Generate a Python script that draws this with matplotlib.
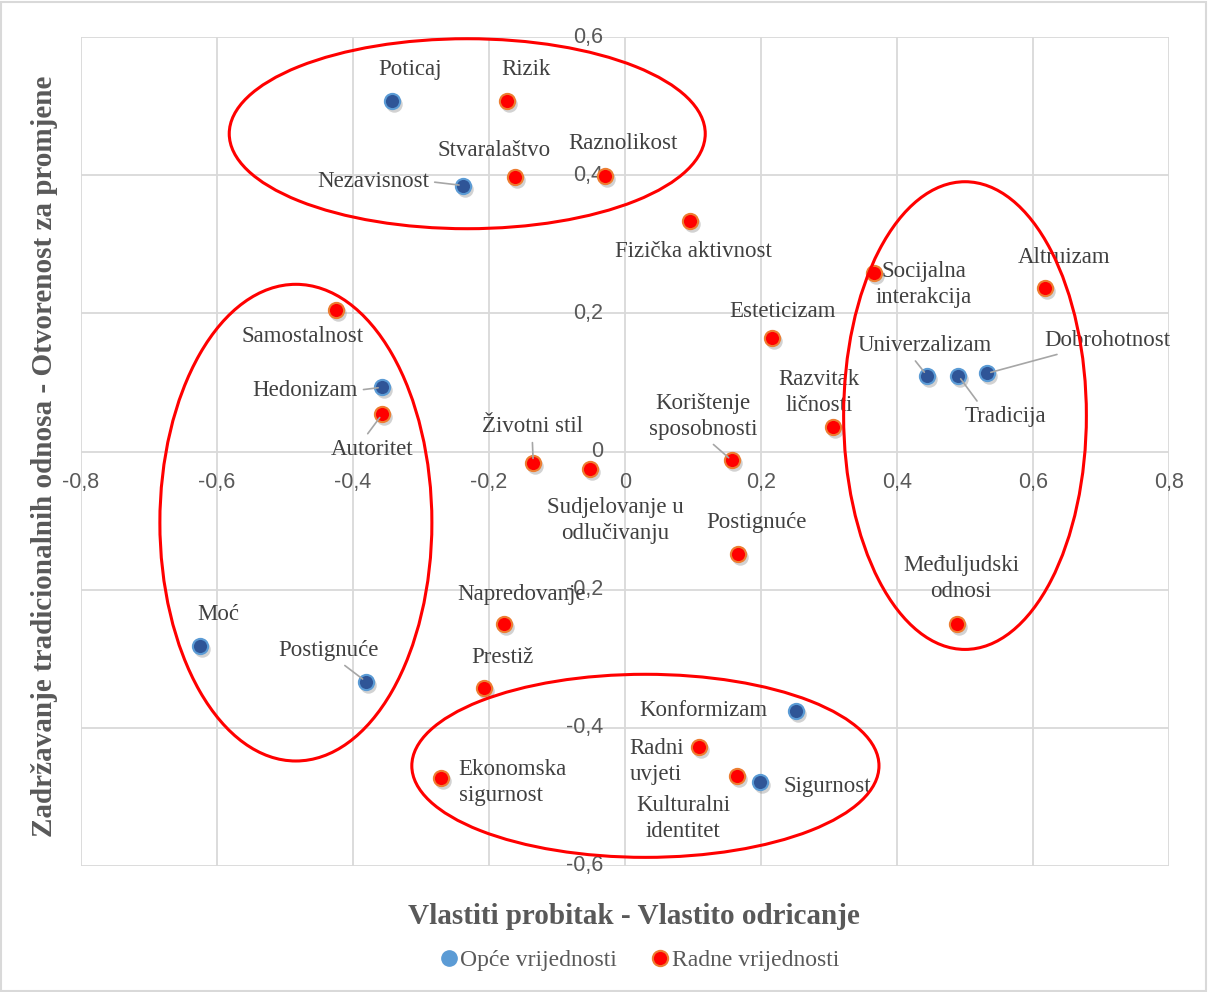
import numpy as np
import matplotlib
matplotlib.use('Agg')
import matplotlib.pyplot as plt
from matplotlib.patches import Ellipse, Rectangle
from matplotlib.lines import Line2D
import matplotlib.transforms as mtransforms

# Opće vrijednosti (blue)
opce_names = ['Poticaj', 'Nezavisnost', 'Hedonizam', 'Moć', 'Postignuće',
              'Konformizam', 'Sigurnost', 'Univerzalizam', 'Tradicija', 'Dobrohotnost']
opce_x = [-0.343, -0.238, -0.357, -0.625, -0.381, 0.251, 0.199, 0.444, 0.490, 0.532]
opce_y = [0.508, 0.385, 0.093, -0.282, -0.333, -0.375, -0.478, 0.110, 0.110, 0.113]

# Radne vrijednosti (red)
radne_names = ['Rizik', 'Stvaralaštvo', 'Raznolikost', 'Fizička aktivnost',
               'Socijalna\ninterakcija', 'Altruizam', 'Samostalnost', 'Esteticizam',
               'Autoritet', 'Razvitak\nličnosti', 'Korištenje\nsposobnosti', 'Životni stil',
               'Sudjelovanje u\nodlučivanju', 'Postignuće', 'Međuljudski\nodnosi',
               'Napredovanje', 'Prestiž', 'Radni\nuvjeti', 'Kulturalni\nidentitet',
               'Ekonomska\nsigurnost']
radne_x = [-0.174, -0.162, -0.029, 0.096, 0.366, 0.618, -0.425, 0.216, -0.357, 0.306,
           0.157, -0.135, -0.051, 0.166, 0.488, -0.178, -0.207, 0.109, 0.165, -0.271]
radne_y = [0.508, 0.398, 0.399, 0.334, 0.258, 0.236, 0.205, 0.164, 0.054, 0.036,
           -0.013, -0.016, -0.025, -0.149, -0.249, -0.250, -0.343, -0.428, -0.469, -0.473]

ticks_x = [-0.8, -0.6, -0.4, -0.2, 0, 0.2, 0.4, 0.6, 0.8]
ticks_y = [-0.6, -0.4, -0.2, 0, 0.2, 0.4, 0.6]

# label offsets in pixels (dx, dy), alignment, leader line start (relpos) or None
opce_lab = {
    'Poticaj': (18, 31, 'center', None),
    'Nezavisnost': (-90, 4, 'center', (1.0, 0.5)),
    'Hedonizam': (-77, -3, 'center', (1.0, 0.5)),
    'Moć': (18, 32, 'center', None),
    'Postignuće': (-37, 31, 'center', (0.6, 0.0)),
    'Konformizam': (-92, 0, 'center', None),
    'Sigurnost': (67, -5, 'center', None),
    'Univerzalizam': (-2, 30, 'center', (0.4, 0.0)),
    'Tradicija': (47, -41, 'center', (0.2, 1.0)),
    'Dobrohotnost': (121, 33, 'center', (0.2, 0.0)),
}
radne_lab = {
    'Rizik': (19, 31, 'center', None),
    'Stvaralaštvo': (-21, 26, 'center', None),
    'Raznolikost': (18, 32, 'center', None),
    'Fizička aktivnost': (3, -31, 'center', None),
    'Socijalna\ninterakcija': (50, -11, 'center', None),
    'Altruizam': (19, 31, 'center', None),
    'Samostalnost': (-33, -27, 'center', None),
    'Esteticizam': (11, 27, 'center', None),
    'Autoritet': (-10, -35, 'center', (0.4, 1.0)),
    'Razvitak\nličnosti': (-14, 34, 'center', None),
    'Korištenje\nsposobnosti': (-29, 44, 'center', (0.55, 0.0)),
    'Životni stil': (-1, 36, 'center', (0.5, 0.0)),
    'Sudjelovanje u\nodlučivanju': (25, -52, 'center', None),
    'Postignuće': (19, 32, 'center', None),
    'Međuljudski\nodnosi': (4, 45, 'center', None),
    'Napredovanje': (18, 30, 'center', None),
    'Prestiž': (18, 31, 'center', None),
    'Radni\nuvjeti': (-43, -14, 'center', None),
    'Kulturalni\nidentitet': (-54, -43, 'center', None),
    'Ekonomska\nsigurnost': (18, -4, 'left', None),
}

# ellipses: center x, center y, width, height
ell_cx = [-0.232, -0.484, 0.500, 0.030]
ell_cy = [0.460, -0.103, 0.052, -0.455]
ell_w = [0.700, 0.400, 0.357, 0.687]
ell_h = [0.275, 0.690, 0.677, 0.265]

fig = plt.figure(figsize=(12.08, 9.92), dpi=100)
ax = fig.add_axes([81/1208, 1-866/992, 1088/1208, 829/992])
ax.set_xlim(-0.8, 0.8)
ax.set_ylim(-0.6, 0.6)

grid_c = '#D9D9D9'
for t in ticks_x:
    ax.axvline(t, color=grid_c, lw=1.3, zorder=0)
for t in ticks_y:
    ax.axhline(t, color=grid_c, lw=1.3, zorder=0)
for s in ax.spines.values():
    s.set_visible(False)
ax.set_xticks([])
ax.set_yticks([])

tick_c = '#595959'
for t in ticks_x:
    ax.annotate(('%.1f' % t).replace('.', ',') if t != 0 else '0', (t, 0),
                xytext=(0, -31), textcoords='offset pixels', ha='center', va='center',
                fontsize=15.5, color=tick_c, family='Liberation Sans')
for t in ticks_y:
    ax.annotate(('%.1f' % t).replace('.', ',') if t != 0 else '0', (0, t),
                xytext=(-22, 0), textcoords='offset pixels', ha='right', va='center',
                fontsize=15.5, color=tick_c, family='Liberation Sans')

for cx, cy, w, h in zip(ell_cx, ell_cy, ell_w, ell_h):
    ax.add_patch(Ellipse((cx, cy), w, h, fill=False, ec='#FF0000', lw=2.2, zorder=5))

shadow = mtransforms.offset_copy(ax.transData, fig=fig, x=2, y=-3, units='dots')
ax.scatter(opce_x, opce_y, s=140, color='#7F7F7F', alpha=0.35, lw=0, transform=shadow, zorder=2)
ax.scatter(radne_x, radne_y, s=140, color='#7F7F7F', alpha=0.35, lw=0, transform=shadow, zorder=2)
ax.scatter(opce_x, opce_y, s=120, color='#2F5597', edgecolor='#5B9BD5', lw=1.5, zorder=3)
ax.scatter(radne_x, radne_y, s=120, color='#FF0000', edgecolor='#ED7D31', lw=1.5, zorder=3)

lab_c = '#404040'
def put_labels(names, xs, ys, opts):
    for n, x, y in zip(names, xs, ys):
        dx, dy, ha, rel = opts[n]
        ap = None
        if rel is not None:
            ap = dict(arrowstyle='-', color='#A6A6A6', lw=1.2, shrinkA=2, shrinkB=3,
                      relpos=rel)
        ax.annotate(n, (x, y), xytext=(dx, dy), textcoords='offset pixels',
                    ha=ha, va='center', fontsize=16.5, color=lab_c,
                    family='Liberation Serif', linespacing=1.3, arrowprops=ap, zorder=4)

put_labels(opce_names, opce_x, opce_y, opce_lab)
put_labels(radne_names, radne_x, radne_y, radne_lab)

fig.text(634/1208, 1-917/992, 'Vlastiti probitak - Vlastito odricanje', ha='center', va='center',
         fontsize=21, fontweight='bold', color='#595959', family='Liberation Serif')
fig.text(45/1208, 1-456/992, 'Zadržavanje tradicionalnih odnosa - Otvorenost za promjene',
         ha='center', va='center', rotation=90, fontsize=21, fontweight='bold',
         color='#595959', family='Liberation Serif')

handles = [Line2D([], [], marker='o', ls='', ms=11, mfc='#5B9BD5', mec='#5B9BD5'),
           Line2D([], [], marker='o', ls='', ms=11, mfc='#FF0000', mec='#ED7D31', mew=1.5)]
fig.legend(handles, ['Opće vrijednosti', 'Radne vrijednosti'], loc='center',
           bbox_to_anchor=(632/1208, 1-960/992), ncol=2, frameon=False,
           prop={'family': 'Liberation Serif', 'size': 17}, handletextpad=-0.5,
           columnspacing=0.8, labelcolor='#595959')

fig.add_artist(Rectangle((0.001, 0.001), 0.997, 0.997, transform=fig.transFigure,
                         fill=False, ec='#D9D9D9', lw=1.5))

fig.savefig('out.png', dpi=100)
